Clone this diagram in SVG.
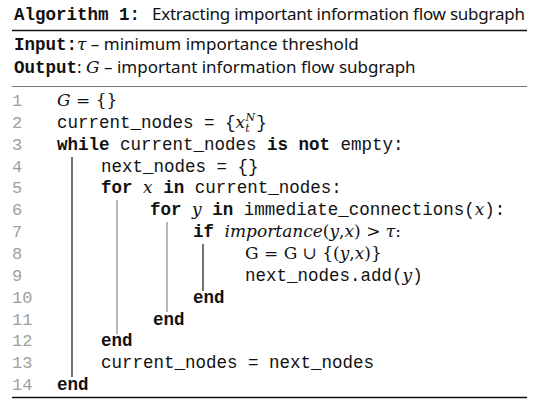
<svg xmlns="http://www.w3.org/2000/svg" width="539" height="403" viewBox="0 0 539 403">
  <style>
    .mono { font-family: "Liberation Mono", "Courier New", monospace; font-size: 17.5px; fill: #111; }
    .kw { font-weight: bold; }
    .sans { font-family: "Noto Sans", "Open Sans", sans-serif; font-size: 17px; fill: #111; }
    .math { font-family: "DejaVu Serif", "Liberation Serif", serif; font-style: italic; font-size: 17px; fill: #111; }
    .script { font-family: "DejaVu Serif", "Liberation Serif", serif; font-style: italic; font-size: 11px; fill: #111; }
    .rm { font-family: "DejaVu Serif", "Liberation Serif", serif; font-size: 17px; fill: #111; }
    .ln { font-family: "Liberation Mono", monospace; font-size: 17px; fill: #a0a0a0; }
    .rule-dark { stroke: #111; stroke-width: 1.6; }
    .rule-light { stroke: #777; stroke-width: 1; }
    .bar-dark { stroke: #111; stroke-width: 1.2; }
    .bar-grey { stroke: #888; stroke-width: 1.2; }
  </style>

  <rect width="539" height="403" fill="#fff"/>

  <!-- caption -->
  <g id="caption">
    <text x="14" y="20"><tspan class="mono kw">Algorithm 1:</tspan><tspan class="sans" x="152" textLength="373">Extracting important information flow subgraph</tspan></text>
  </g>

  <line class="rule-dark" x1="12" y1="30.5" x2="527" y2="30.5"/>

  <!-- input / output -->
  <g id="io">
    <text x="14" y="50"><tspan class="mono kw">Input:</tspan><tspan class="math">τ</tspan><tspan class="sans"> – minimum importance threshold</tspan></text>
    <text x="14" y="73"><tspan class="mono kw">Output</tspan><tspan class="sans">: </tspan><tspan class="math">G</tspan><tspan class="sans"> – important information flow subgraph</tspan></text>
  </g>

  <line class="rule-light" x1="12" y1="86.5" x2="527" y2="86.5"/>

  <!-- line numbers -->
  <g id="line-numbers">
    <text class="ln" x="12" y="106">1</text>
    <text class="ln" x="12" y="128">2</text>
    <text class="ln" x="12" y="150">3</text>
    <text class="ln" x="12" y="172">4</text>
    <text class="ln" x="12" y="193">5</text>
    <text class="ln" x="12" y="215">6</text>
    <text class="ln" x="12" y="237">7</text>
    <text class="ln" x="12" y="259">8</text>
    <text class="ln" x="12" y="281">9</text>
    <text class="ln" x="12" y="303">10</text>
    <text class="ln" x="12" y="325">11</text>
    <text class="ln" x="12" y="346">12</text>
    <text class="ln" x="12" y="368">13</text>
    <text class="ln" x="12" y="390">14</text>
  </g>

  <!-- block guides -->
  <g id="guides">
    <line class="bar-dark" x1="72" y1="157" x2="72" y2="377"/>
    <line class="bar-grey" x1="117" y1="200" x2="117" y2="334"/>
    <line class="bar-grey" x1="167" y1="222" x2="167" y2="312"/>
    <line class="bar-dark" x1="203" y1="244" x2="203" y2="291"/>
  </g>

  <!-- code -->
  <g id="code">
    <text x="57" y="106"><tspan class="math">G</tspan><tspan class="rm"> = {}</tspan></text>
    <text x="57" y="128"><tspan class="mono">current_nodes = {</tspan><tspan class="math">x</tspan><tspan class="script" dy="4">t</tspan><tspan class="script" dx="-4" dy="-11">N</tspan><tspan class="mono" dx="1" dy="7">}</tspan></text>
    <text x="57" y="150"><tspan class="mono kw">while</tspan><tspan class="mono"> current_nodes </tspan><tspan class="mono kw">is not</tspan><tspan class="mono"> empty:</tspan></text>
    <text x="101" y="172" class="mono">next_nodes = {}</text>
    <text x="101" y="193"><tspan class="mono kw">for</tspan><tspan class="mono"> </tspan><tspan class="math">x</tspan><tspan class="mono"> </tspan><tspan class="mono kw">in</tspan><tspan class="mono"> current_nodes:</tspan></text>
    <text x="150" y="215"><tspan class="mono kw">for</tspan><tspan class="mono"> </tspan><tspan class="math">y</tspan><tspan class="mono"> </tspan><tspan class="mono kw">in</tspan><tspan class="mono"> immediate_connections(</tspan><tspan class="math">x</tspan><tspan class="mono">):</tspan></text>
    <text x="193" y="237"><tspan class="mono kw">if</tspan><tspan class="mono"> </tspan><tspan class="math">importance</tspan><tspan class="rm">(</tspan><tspan class="math">y</tspan><tspan class="rm">,</tspan><tspan class="math">x</tspan><tspan class="rm">) &gt; </tspan><tspan class="math">τ</tspan><tspan class="rm">:</tspan></text>
    <text x="245" y="259"><tspan class="rm">G = G ∪ {(</tspan><tspan class="math">y</tspan><tspan class="rm">,</tspan><tspan class="math">x</tspan><tspan class="rm">)}</tspan></text>
    <text x="245" y="281"><tspan class="mono">next_nodes.add(</tspan><tspan class="math">y</tspan><tspan class="mono">)</tspan></text>
    <text x="193" y="303" class="mono kw">end</text>
    <text x="153" y="325" class="mono kw">end</text>
    <text x="101" y="346" class="mono kw">end</text>
    <text x="101" y="368" class="mono">current_nodes = next_nodes</text>
    <text x="57" y="390" class="mono kw">end</text>
  </g>

  <line class="rule-dark" x1="12" y1="397.5" x2="527" y2="397.5"/>
</svg>
